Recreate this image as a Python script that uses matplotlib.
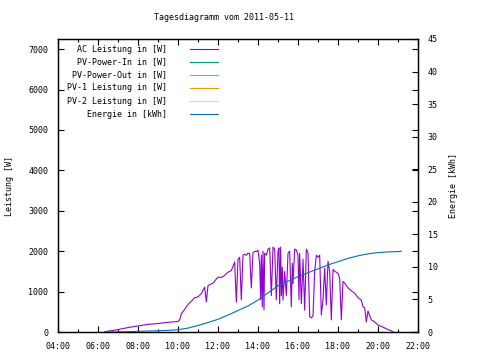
import matplotlib
matplotlib.use("Agg")
import matplotlib.pyplot as plt
from matplotlib.ticker import MultipleLocator, FuncFormatter

# AC Leistung [W]
ac_times = ["06:20", "06:30", "07:00", "07:30", "08:00", "08:30", "09:00", "09:30",
            "10:00", "10:05", "10:10", "10:20", "10:30", "10:40", "10:50", "11:00",
            "11:10", "11:20", "11:25", "11:30", "11:45", "12:00", "12:10", "12:20",
            "12:30", "12:40", "12:50", "12:55", "13:00", "13:05", "13:10", "13:15",
            "13:20", "13:25", "13:30", "13:35", "13:40", "13:45", "13:50", "13:55",
            "14:00", "14:05", "14:08", "14:10", "14:13", "14:15", "14:18", "14:20",
            "14:25", "14:30", "14:35", "14:40", "14:45", "14:50", "14:55", "15:00",
            "15:03", "15:05", "15:08", "15:10", "15:13", "15:15", "15:20", "15:25",
            "15:30", "15:35", "15:40", "15:43", "15:45", "15:50", "15:55", "16:00",
            "16:03", "16:05", "16:10", "16:13", "16:15", "16:20", "16:25", "16:30",
            "16:35", "16:40", "16:45", "16:50", "16:55", "17:00", "17:05", "17:10",
            "17:15", "17:20", "17:25", "17:30", "17:35", "17:40", "17:45", "17:50",
            "17:55", "18:00", "18:05", "18:10", "18:15", "18:20", "18:30", "18:40",
            "18:50", "19:00", "19:10", "19:15", "19:20", "19:25", "19:30", "19:40",
            "19:50", "20:00", "20:10", "20:20", "20:30", "20:40", "20:45"]
ac_power = [0, 20, 60, 110, 150, 190, 210, 240,
            260, 300, 450, 560, 680, 760, 850, 870,
            950, 1110, 740, 1150, 1210, 1360, 1350, 1400,
            1480, 1520, 1730, 740, 1800, 1850, 790, 1900,
            1920, 1900, 1950, 1940, 1090, 1960, 2000, 1990,
            2020, 1700, 800, 1900, 620, 2000, 550, 1950,
            1900, 2050, 2080, 900, 2100, 2050, 800, 2000,
            2080, 700, 2100, 900, 1600, 790, 1500, 900,
            1950, 2000, 620, 1700, 1200, 2050, 2030, 1900,
            800, 1950, 700, 1300, 1800, 540, 2050, 1950,
            380, 350, 400, 1500, 1900, 1850, 1900, 420,
            800, 1580, 670, 1750, 1500, 300, 1550, 1500,
            1480, 1450, 1330, 300, 1250, 1210, 1090, 1020,
            960, 850, 790, 620, 600, 250, 520, 300,
            250, 170, 140, 100, 60, 30, 0]

# Energie [kWh]
en_times = ["06:20", "07:00", "07:30", "08:00", "08:30", "09:00", "09:30", "10:00",
            "10:30", "11:00", "11:30", "12:00", "12:30", "13:00", "13:30", "14:00",
            "14:30", "15:00", "15:30", "16:00", "16:30", "17:00", "17:30", "18:00",
            "18:30", "19:00", "19:30", "20:00", "20:30", "21:00", "21:10"]
energy = [0.0, 0.02, 0.05, 0.1, 0.15, 0.2, 0.25, 0.35,
          0.6, 1.0, 1.45, 1.95, 2.6, 3.3, 4.0, 4.9,
          6.0, 7.1, 7.8, 8.5, 9.1, 9.7, 10.3, 10.8,
          11.3, 11.7, 12.0, 12.2, 12.3, 12.35, 12.4]

legend_labels = ["AC Leistung in [W]", "PV-Power-In in [W]", "PV-Power-Out in [W]",
                 "PV-1 Leistung in [W]", "PV-2 Leistung in [W]", "Energie in [kWh]"]
legend_colors = ["#9400d3", "#009e73", "#56b4e9", "#e69f00", "#f0e442", "#0072b2"]


def to_hours(t):
    h, m = t.split(":")
    return int(h) + int(m) / 60.0


font = "DejaVu Sans Mono"
fs = 6

fig = plt.figure(figsize=(4.8, 3.6), dpi=100)
ax = fig.add_axes([58 / 480, 1 - 332 / 360, 360 / 480, 293 / 360])
ax2 = ax.twinx()

ax.plot([to_hours(t) for t in ac_times], ac_power, color=legend_colors[0], lw=0.8)
ax2.plot([to_hours(t) for t in en_times], energy, color=legend_colors[5], lw=0.8)

ax.set_xlim(4, 22)
ax.set_ylim(0, 7250)
ax2.set_ylim(0, 45)

ax.xaxis.set_major_locator(MultipleLocator(2))
ax.xaxis.set_minor_locator(MultipleLocator(1))
ax.xaxis.set_major_formatter(FuncFormatter(lambda v, p: "%02d:00" % int(round(v))))
ax.yaxis.set_major_locator(MultipleLocator(1000))
ax2.yaxis.set_major_locator(MultipleLocator(5))

ax.tick_params(which="both", direction="in", top=True, right=True, width=0.8)
ax.tick_params(which="major", length=4, labelsize=fs, pad=7)
ax.tick_params(which="minor", length=2)
ax2.tick_params(direction="in", length=4, width=0.8, labelsize=fs, pad=7)

for lab in ax.get_xticklabels() + ax.get_yticklabels() + ax2.get_yticklabels():
    lab.set_family(font)

for a in (ax, ax2):
    for s in a.spines.values():
        s.set_linewidth(0.9)

ax.set_ylabel("Leistung [W]", family=font, fontsize=fs, labelpad=10)
ax2.set_ylabel("Energie [kWh]", family=font, fontsize=fs, labelpad=8)

fig.text(224 / 480, 1 - 18 / 360, "Tagesdiagramm vom 2011-05-11",
         family=font, fontsize=fs, ha="center", va="center")

# Legend, gnuplot style: right-aligned labels, line sample to the right
for i, (lab, col) in enumerate(zip(legend_labels, legend_colors)):
    y = 1 - (49 + 13 * i - 39) / 293
    ax.text((167 - 58) / 360, y, lab, transform=ax.transAxes, family=font,
            fontsize=fs, ha="right", va="center")
    ax.plot([(190 - 58) / 360, (218 - 58) / 360], [y, y], transform=ax.transAxes,
            color=col, lw=0.8, clip_on=False)

fig.savefig("out.png", dpi=100)
